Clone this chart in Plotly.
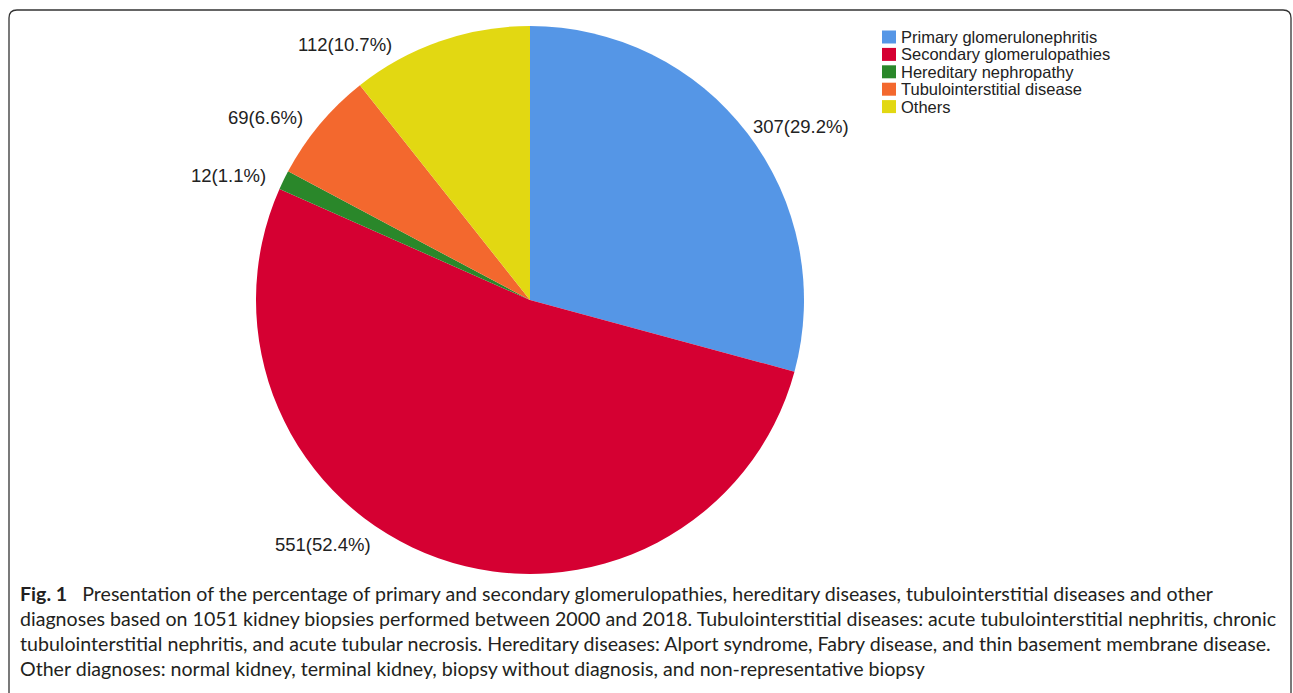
import math
import plotly.graph_objects as go

# ---------------- data ----------------
categories = [
    "Primary glomerulonephritis",
    "Secondary glomerulopathies",
    "Hereditary nephropathy",
    "Tubulointerstitial disease",
    "Others",
]
counts = [307, 551, 12, 69, 112]
colors = ["#5596E6", "#D50032", "#2A872A", "#F3682E", "#E2D812"]

caption_lines = [
    "<b>Fig. 1</b>&nbsp;&nbsp;&nbsp;Presentation of the percentage of primary and secondary glomerulopathies, hereditary diseases, tubulointerstitial diseases and other",
    "diagnoses based on 1051 kidney biopsies performed between 2000 and 2018. Tubulointerstitial diseases: acute tubulointerstitial nephritis, chronic",
    "tubulointerstitial nephritis, and acute tubular necrosis. Hereditary diseases: Alport syndrome, Fabry disease, and thin basement membrane disease.",
    "Other diagnoses: normal kidney, terminal kidney, biopsy without diagnosis, and non-representative biopsy",
]

# ---------------- layout constants (pixels) ----------------
W, H = 1293, 693
CX, CY, R = 530, 300, 274


def px(x):
    return x / W


def py(y):
    return 1 - y / H


fig = go.Figure(
    go.Pie(
        labels=categories,
        values=counts,
        sort=False,
        direction="clockwise",
        rotation=0,
        marker=dict(colors=colors, line=dict(width=0)),
        textinfo="none",
        hoverinfo="skip",
        showlegend=False,
        domain=dict(x=[px(CX - R), px(CX + R)], y=[py(CY + R), py(CY - R)]),
    )
)

annotations = []

# slice labels placed outside the pie (computed from slice mid-angles)
total = sum(counts)
cum = 0
RY, RX = 285, 290
for v in counts:
    mid = (cum + v / 2) / total * 2 * math.pi
    cum += v
    y = CY - RY * math.cos(mid)
    y = min(max(y, CY - 256), CY + 244)
    dy = y - CY
    dx = math.sqrt(max(RX ** 2 - dy ** 2, 0))
    side = 1 if math.sin(mid) > 0 else -1
    x = CX + side * (dx - (12 if side > 0 else 0))
    annotations.append(
        dict(
            x=px(x), y=py(y), xref="paper", yref="paper",
            text=f"{v}({v / total * 100:.1f}%)",
            showarrow=False,
            xanchor="left" if side > 0 else "right",
            yanchor="middle",
            font=dict(family="Liberation Sans, Arial", size=18.5, color="#222222"),
        )
    )

# custom legend
shapes = []
LX, LY0, LSTEP, SW = 882, 37, 17.4, 13
for i, (name, col) in enumerate(zip(categories, colors)):
    yc = LY0 + i * LSTEP
    shapes.append(
        dict(type="rect", xref="paper", yref="paper",
             x0=px(LX), x1=px(LX + 14), y0=py(yc + SW / 2), y1=py(yc - SW / 2),
             fillcolor=col, line=dict(width=0))
    )
    annotations.append(
        dict(x=px(LX + 17), y=py(yc), xref="paper", yref="paper",
             text=name, showarrow=False, xanchor="left", yanchor="middle",
             font=dict(family="Liberation Sans, Arial", size=16.5, color="#222222"))
    )

# caption
for i, line in enumerate(caption_lines):
    annotations.append(
        dict(x=px(18), y=py(593 + i * 25), xref="paper", yref="paper",
             text=line, showarrow=False, xanchor="left", yanchor="middle",
             font=dict(family="Lato", size=19.6, color="#231F20"))
    )

# rounded frame (only top part visible)
L, T, RGT, B, rad = 9, 10, 1291, 710, 8
path = (
    f"M {px(L)},{py(B)} L {px(L)},{py(T + rad)} "
    f"Q {px(L)},{py(T)} {px(L + rad)},{py(T)} "
    f"L {px(RGT - rad)},{py(T)} "
    f"Q {px(RGT)},{py(T)} {px(RGT)},{py(T + rad)} "
    f"L {px(RGT)},{py(B)}"
)
shapes.append(dict(type="path", xref="paper", yref="paper", path=path,
                   line=dict(color="#333333", width=1.3)))

fig.update_layout(
    width=W, height=H,
    margin=dict(l=0, r=0, t=0, b=0),
    paper_bgcolor="white",
    plot_bgcolor="white",
    annotations=annotations,
    shapes=shapes,
)

fig.write_html(
    "out.html",
    config={"displayModeBar": False},
    post_script="document.body.style.margin='0';document.body.style.overflow='hidden';",
)
